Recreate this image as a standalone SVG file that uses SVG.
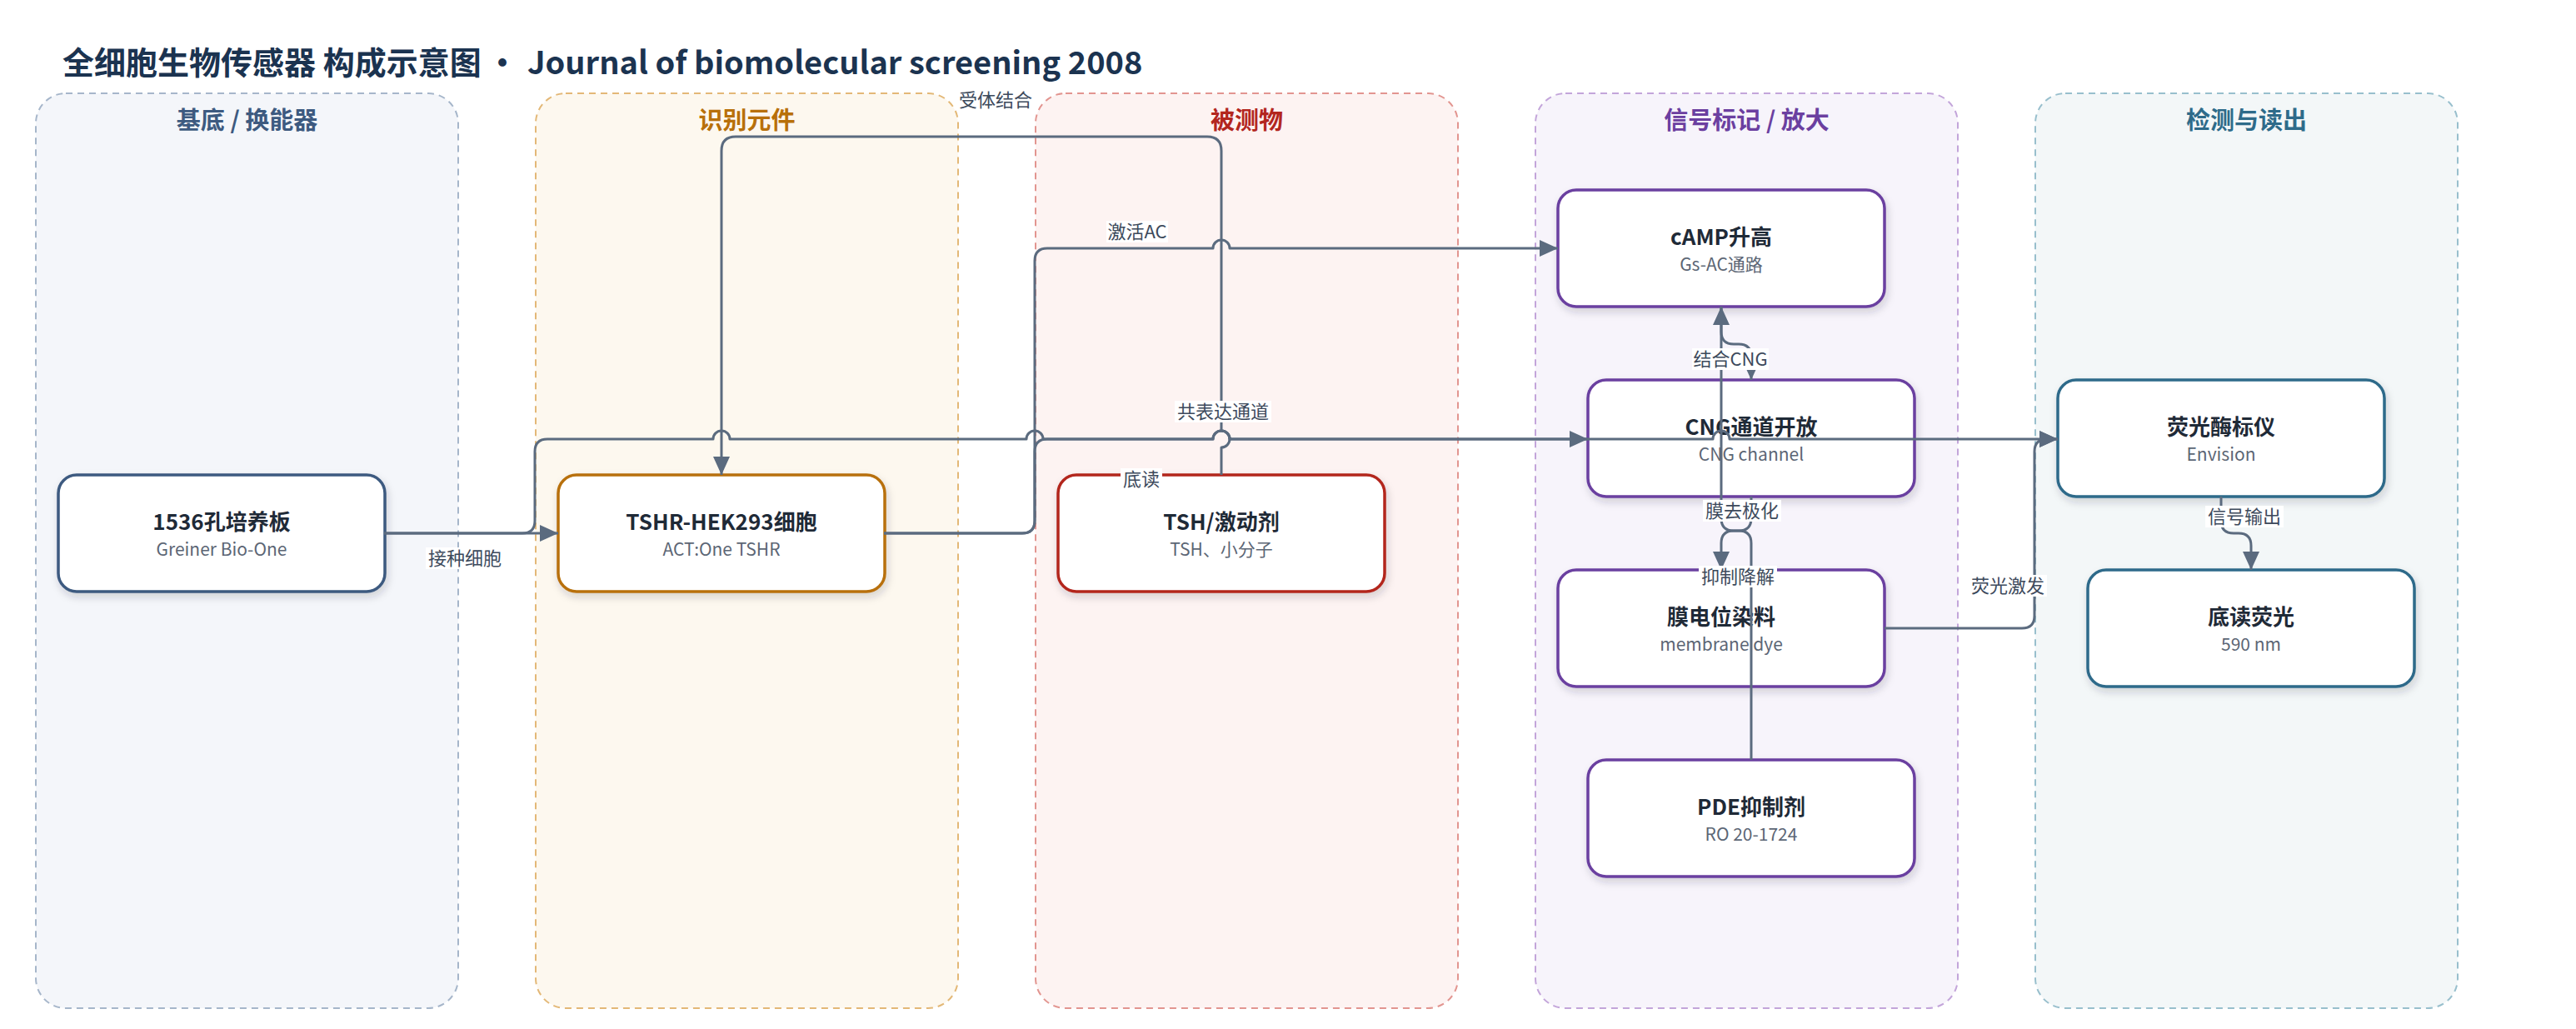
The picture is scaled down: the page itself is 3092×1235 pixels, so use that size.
<svg xmlns="http://www.w3.org/2000/svg" width="3092" height="1235" viewBox="0 0 3092 1235">
<defs>
<style>
text{font-family:"Noto Sans CJK SC","Noto Sans",sans-serif}
.title{font-size:38px;font-weight:700;fill:#1b3350}
.lane{stroke-width:2;stroke-dasharray:8 6}
.lt{font-size:29px;font-weight:700;text-anchor:middle}
.node{fill:#fff;stroke-width:3.5;filter:url(#sh)}
.nt{font-size:26px;font-weight:700;fill:#1f2a37;text-anchor:middle}
.ns{font-size:21px;fill:#5c6675;text-anchor:middle}
.edge{fill:none;stroke:#5b6b7f;stroke-width:3;stroke-linejoin:round}
.arr{marker-end:url(#arr)}
.lbg{fill:#fff}
.el{font-size:22px;fill:#3d4a5c;text-anchor:middle}
</style>
<marker id="arr" viewBox="0 0 22 20" refX="22" refY="10" markerWidth="22" markerHeight="20" markerUnits="userSpaceOnUse" orient="auto"><path d="M0,0 L22,10 L0,20 z" fill="#5b6b7f"/></marker>
<filter id="sh" x="-10%" y="-15%" width="125%" height="145%"><feDropShadow dx="2" dy="5" stdDeviation="5" flood-color="#1e293b" flood-opacity="0.18"/></filter>
</defs>
<rect width="3092" height="1235" fill="#fff"/>
<text class="title" y="89"><tspan x="75">全细胞生物传感器 构成示意图</tspan><tspan x="584">·</tspan><tspan x="633">Journal of biomolecular screening 2008</tspan></text>

<g id="lanes">
<g id="lane-substrate"><rect class="lane" x="43" y="112" width="507" height="1098" rx="36" fill="#f4f6fa" stroke="#a6b6ca"/><text class="lt" x="296.5" y="155" fill="#3d5a80">基底 / 换能器</text></g>
<g id="lane-recognition"><rect class="lane" x="643" y="112" width="507" height="1098" rx="36" fill="#fdf8ef" stroke="#e3b877"/><text class="lt" x="896.5" y="155" fill="#b8700a">识别元件</text></g>
<g id="lane-analyte"><rect class="lane" x="1243" y="112" width="507" height="1098" rx="36" fill="#fdf3f2" stroke="#e29590"/><text class="lt" x="1496.5" y="155" fill="#b3261e">被测物</text></g>
<g id="lane-signal"><rect class="lane" x="1843" y="112" width="507" height="1098" rx="36" fill="#f7f4fb" stroke="#c3a5da"/><text class="lt" x="2096.5" y="155" fill="#6b3fa0">信号标记 / 放大</text></g>
<g id="lane-detect"><rect class="lane" x="2443" y="112" width="507" height="1098" rx="36" fill="#f3f7f8" stroke="#98bfcd"/><text class="lt" x="2696.5" y="155" fill="#2e6b8a">检测与读出</text></g>
</g>

<g id="n-plate"><rect class="node" x="70" y="570" width="392" height="140" rx="22" stroke="#3d5a80"/><text class="nt" x="266" y="636">1536孔培养板</text><text class="ns" x="266" y="667">Greiner Bio-One</text></g>
<g id="n-cell"><rect class="node" x="670" y="570" width="392" height="140" rx="22" stroke="#b8700a"/><text class="nt" x="866" y="636">TSHR-HEK293细胞</text><text class="ns" x="866" y="667">ACT:One TSHR</text></g>
<g id="n-tsh"><rect class="node" x="1270" y="570" width="392" height="140" rx="22" stroke="#b3261e"/><text class="nt" x="1466" y="636">TSH/激动剂</text><text class="ns" x="1466" y="667">TSH、小分子</text></g>
<g id="n-camp"><rect class="node" x="1870" y="228" width="392" height="140" rx="22" stroke="#6b3fa0"/><text class="nt" x="2066" y="294">cAMP升高</text><text class="ns" x="2066" y="325">Gs-AC通路</text></g>
<g id="n-cng"><rect class="node" x="1906" y="456" width="392" height="140" rx="22" stroke="#6b3fa0"/><text class="nt" x="2102" y="522">CNG通道开放</text><text class="ns" x="2102" y="553">CNG channel</text></g>
<g id="n-dye"><rect class="node" x="1870" y="684" width="392" height="140" rx="22" stroke="#6b3fa0"/><text class="nt" x="2066" y="750">膜电位染料</text><text class="ns" x="2066" y="781">membrane dye</text></g>
<g id="n-pde"><rect class="node" x="1906" y="912" width="392" height="140" rx="22" stroke="#6b3fa0"/><text class="nt" x="2102" y="978">PDE抑制剂</text><text class="ns" x="2102" y="1009">RO 20-1724</text></g>
<g id="n-reader"><rect class="node" x="2470" y="456" width="392" height="140" rx="22" stroke="#2e6b8a"/><text class="nt" x="2666" y="522">荧光酶标仪</text><text class="ns" x="2666" y="553">Envision</text></g>
<g id="n-bottom"><rect class="node" x="2506" y="684" width="392" height="140" rx="22" stroke="#2e6b8a"/><text class="nt" x="2702" y="750">底读荧光</text><text class="ns" x="2702" y="781">590 nm</text></g>

<g id="connectors">
<path id="e-plate-cell" class="edge arr" d="M461,640 H670"/>
<path id="e-plate-reader" class="edge arr" d="M461,640 H627 Q642,640 642,625 V542 Q642,527 657,527 H856 A10,10 0 0 1 876,527 H1232 A10,10 0 0 1 1252,527 H1456 A10,10 0 0 1 1476,527 H2056 A10,10 0 0 1 2076,527 H2470"/>
<path id="e-cell-cng" class="edge arr" d="M1061,640 H1227 Q1242,640 1242,625 V542 Q1242,527 1257,527 H1456 A10,10 0 0 1 1476,527 H1906"/>
<path id="e-cell-camp" class="edge arr" d="M1061,640 H1227 Q1242,640 1242,625 V313 Q1242,298 1257,298 H1456 A10,10 0 0 1 1476,298 H1870"/>
<path id="e-tsh-cell" class="edge arr" d="M1466,570 V537 A10,10 0 0 0 1466,517 V181 Q1466,164 1449,164 H883 Q866,164 866,181 V570"/>
<path id="e-camp-cng" class="edge arr" d="M2066,368 V398 Q2066,413 2081,413 H2087 Q2102,413 2102,428 V456"/>
<path id="e-cng-dye" class="edge arr" d="M2102,596 V622 Q2102,637 2087,637 H2081 Q2066,637 2066,652 V684"/>
<path id="e-pde-camp" class="edge arr" d="M2102,912 V652 Q2102,637 2087,637 H2081 Q2066,637 2066,622 V368"/>
<path id="e-dye-reader" class="edge arr" d="M2262,754 H2427 Q2442,754 2442,739 V542 Q2442,527 2457,527 H2470"/>
<path id="e-reader-bottom" class="edge arr" d="M2666,596 V625 Q2666,640 2681,640 H2687 Q2702,640 2702,655 V684"/>
</g>

<g id="edge-labels">
<rect class="lbg" x="511" y="657" width="94" height="26"/><text class="el" x="558" y="678">接种细胞</text>
<rect class="lbg" x="1148" y="107" width="94" height="26"/><text class="el" x="1195" y="128">受体结合</text>
<rect class="lbg" x="1328" y="265" width="74" height="26"/><text class="el" x="1365" y="286">激活AC</text>
<rect class="lbg" x="1410" y="481" width="116" height="26"/><text class="el" x="1468" y="502">共表达通道</text>
<rect class="lbg" x="1345" y="562" width="50" height="26"/><text class="el" x="1370" y="583">底读</text>
<rect class="lbg" x="2031" y="418" width="92" height="26"/><text class="el" x="2077" y="439">结合CNG</text>
<rect class="lbg" x="2044" y="600" width="94" height="26"/><text class="el" x="2091" y="621">膜去极化</text>
<rect class="lbg" x="2039" y="679" width="94" height="26"/><text class="el" x="2086" y="700">抑制降解</text>
<rect class="lbg" x="2363" y="690" width="94" height="26"/><text class="el" x="2410" y="711">荧光激发</text>
<rect class="lbg" x="2647" y="607" width="94" height="26"/><text class="el" x="2694" y="628">信号输出</text>
</g>
</svg>
